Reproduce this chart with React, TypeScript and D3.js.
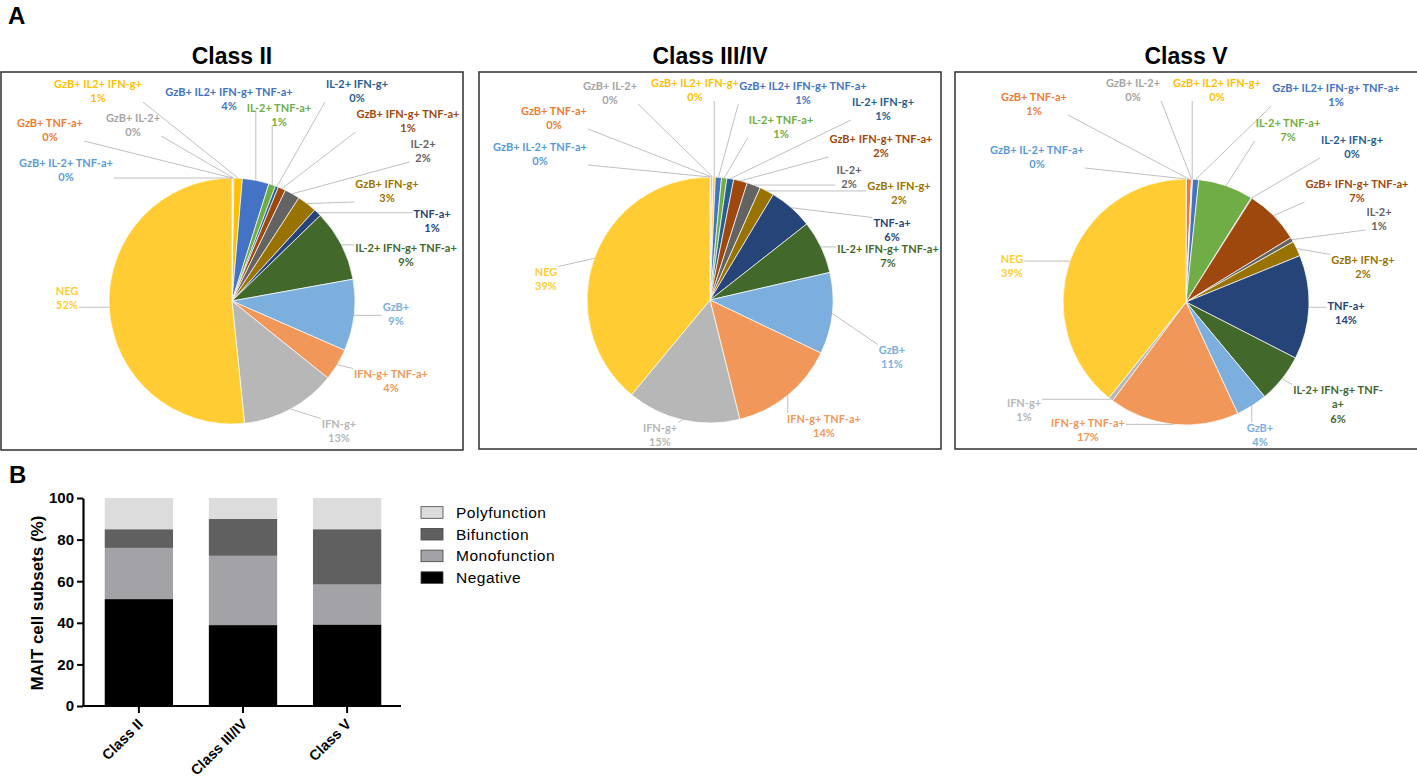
import React, { useEffect, useRef } from 'react';
import * as d3 from 'd3';

// ---- pie data (share of MAIT cells, %) ----
const subsets = [
  'GzB+ IL-2+ TNF-a+', 'GzB+ TNF-a+', 'GzB+ IL-2+', 'GzB+ IL2+ IFN-g+',
  'GzB+ IL2+ IFN-g+ TNF-a+', 'IL-2+ TNF-a+', 'IL-2+ IFN-g+', 'GzB+ IFN-g+ TNF-a+',
  'IL-2+', 'GzB+ IFN-g+', 'TNF-a+', 'IL-2+ IFN-g+ TNF-a+',
  'GzB+', 'IFN-g+ TNF-a+', 'IFN-g+', 'NEG',
];
const classIIShares = [0.05, 0.05, 0.15, 1.1, 3.5, 0.9, 0.4, 1.0, 2.0, 2.6, 1.0, 9.4, 9.4, 4.2, 12.6, 51.6];
const classIIIIVShares = [0.1, 0.2, 0.1, 0.3, 0.8, 0.7, 0.9, 1.8, 1.8, 1.9, 5.8, 7.0, 10.7, 14.0, 14.9, 39.0];
const classVShares = [0.05, 0.65, 0.05, 0.1, 0.8, 7.2, 0.1, 7.2, 0.6, 2.0, 13.6, 6.4, 4.1, 17.0, 0.6, 39.0];

// ---- bar data (%) ----
const barClasses = ['Class II', 'Class III/IV', 'Class V'];
const negative = [51.4, 38.9, 39.2];
const monofunction = [24.6, 33.3, 19.2];
const bifunction = [9.0, 17.8, 26.6];
const polyfunction = [15.0, 10.0, 15.0];
const funcKeys = ['Negative', 'Monofunction', 'Bifunction', 'Polyfunction'];
const yTicks = [0, 20, 40, 60, 80, 100];

// ---- styling / layout ----
const sliceColors = [
  '#5B9BD5', '#ED7D31', '#A5A5A5', '#FFC000', '#4472C4', '#70AD47', '#255E91', '#9E480E',
  '#636363', '#997300', '#264478', '#43682B', '#7CAFDD', '#F1975A', '#B7B7B7', '#FFCD33',
];
const funcColors: Record<string, string> = {
  Negative: '#000000', Monofunction: '#a2a2a7', Bifunction: '#606060', Polyfunction: '#dcdcdc',
};

// label block offsets (line 1 centre) relative to pie centre
const labelsII = [
  [-166, -139], [-182, -179], [-99, -184], [-134, -218], [-3, -210], [47, -194], [125, -218], [176, -188],
  [191, -158], [155, -118], [200, -88], [174, -54], [164, 5], [159, 72], [107, 122], [-165, -11],
];
const labelsIIIIV = [
  [-170, -154], [-156, -190], [-100, -215], [-15, -218], [93, -215], [71, -181], [173, -199], [171, -162],
  [139, -131], [189, -115], [182, -78], [178, -52], [182, 49], [114, 118], [-50, 127], [-164, -29],
];
const labelsV = [
  [-149, -153], [-152, -206], [-53, -220], [31, -220], [150, -215], [102, -180], [166, -163], [171, -119],
  [193, -91], [177, -43], [160, 3], [152, 87], [74, 125], [-98, 120], [-162, 100], [-174, -44],
];

const piePanels = [
  { title: 'Class II', values: classIIShares, labels: labelsII, box: [1, 72, 463, 450], c: [232, 301], wrap: -1 },
  { title: 'Class III/IV', values: classIIIIVShares, labels: labelsIIIIV, box: [479, 72, 941, 449], c: [710, 300], wrap: -1 },
  { title: 'Class V', values: classVShares, labels: labelsV, box: [955, 72, 1419, 449], c: [1186, 302], wrap: 11 },
];

const R = 123;
const LABEL_FONT = 'Lato, "Open Sans", sans-serif';
const ARIAL = '"Liberation Sans", Arial, sans-serif';

export default function App() {
  const ref = useRef<SVGSVGElement>(null);

  useEffect(() => {
    if (!ref.current) return;
    const svg = d3.select(ref.current);
    svg.selectAll('*').remove();

    svg.append('text').attr('x', 8).attr('y', 24).attr('font-family', ARIAL).attr('font-weight', 700)
      .attr('font-size', 24).text('A');

    const pie = d3.pie<number>().sort(null).value(d => d);
    const arc = d3.arc<d3.PieArcDatum<number>>().innerRadius(0).outerRadius(R);

    piePanels.forEach((p, k) => {
      const [x0, y0, x1, y1] = p.box;
      const [cx, cy] = p.c;
      const clipId = `pieclip${k}`;
      svg.append('clipPath').attr('id', clipId).append('rect')
        .attr('x', x0).attr('y', y0).attr('width', x1 - x0).attr('height', y1 - y0);

      svg.append('text').attr('x', cx).attr('y', 64).attr('text-anchor', 'middle')
        .attr('font-family', ARIAL).attr('font-weight', 700).attr('font-size', 23).text(p.title);

      const g = svg.append('g').attr('clip-path', `url(#${clipId})`);
      const pg = g.append('g').attr('transform', `translate(${cx},${cy})`);
      const arcs = pie(p.values);
      const total = d3.sum(p.values);

      pg.selectAll('path').data(arcs).join('path')
        .attr('d', arc)
        .attr('fill', (_, i) => sliceColors[i])
        .attr('stroke', '#fff').attr('stroke-width', 0.7);

      const leaderG = pg.append('g');
      const labelG = pg.append('g');

      arcs.forEach((a, i) => {
        const [dx, dy] = p.labels[i];
        const pct = Math.round((a.data / total) * 100) + '%';
        const name = subsets[i];
        const lines = p.wrap === i ? [name.slice(0, name.length - 2), name.slice(-2), pct] : [name, pct];
        const t = labelG.append('g');
        lines.forEach((ln, j) => {
          t.append('text').attr('x', dx).attr('y', dy + j * 14.5)
            .attr('text-anchor', 'middle').attr('dominant-baseline', 'central')
            .attr('fill', sliceColors[i]).attr('font-family', LABEL_FONT)
            .attr('font-weight', 700).attr('font-size', 11).text(ln);
        });
        const bb = (t.node() as SVGGElement).getBBox();
        const mid = (a.startAngle + a.endAngle) / 2;
        const px = R * Math.sin(mid);
        const py = -R * Math.cos(mid);
        const qx = Math.max(bb.x - 1, Math.min(px, bb.x + bb.width + 1));
        const qy = Math.max(bb.y + 2, Math.min(py, bb.y + bb.height - 2));
        if (Math.hypot(px - qx, py - qy) > 4) {
          leaderG.append('line').attr('x1', qx).attr('y1', qy).attr('x2', px).attr('y2', py)
            .attr('stroke', '#b0b0b0').attr('stroke-width', 0.8);
        }
      });

      svg.append('rect').attr('x', x0).attr('y', y0).attr('width', x1 - x0).attr('height', y1 - y0)
        .attr('fill', 'none').attr('stroke', '#3c3c3c').attr('stroke-width', 1.6);
    });

    // ---- panel B ----
    svg.append('text').attr('x', 9).attr('y', 483).attr('font-family', ARIAL).attr('font-weight', 700)
      .attr('font-size', 24).text('B');

    const axisX = 83;
    const y = d3.scaleLinear().domain([0, 100]).range([706, 498]);
    const x = d3.scaleBand<string>().domain(barClasses).range([86, 400]).paddingInner(0.344).paddingOuter(0.18);

    const rows = barClasses.map((c, i) => ({
      cls: c, Negative: negative[i], Monofunction: monofunction[i], Bifunction: bifunction[i], Polyfunction: polyfunction[i],
    }));
    const series = d3.stack<any>().keys(funcKeys)(rows);

    const bars = svg.append('g');
    series.forEach(s => {
      bars.selectAll(null).data(s).join('rect')
        .attr('x', d => x(d.data.cls)!)
        .attr('width', x.bandwidth())
        .attr('y', d => y(d[1]))
        .attr('height', d => y(d[0]) - y(d[1]))
        .attr('fill', funcColors[s.key]);
    });

    const yAxis = svg.append('g').attr('transform', `translate(${axisX},0)`)
      .call(d3.axisLeft(y).tickValues(yTicks).tickSize(6).tickSizeOuter(0).tickPadding(3));
    yAxis.select('.domain').attr('stroke-width', 2.2);
    yAxis.selectAll('.tick line').attr('stroke-width', 2);
    yAxis.selectAll('.tick text').attr('font-family', ARIAL).attr('font-weight', 700).attr('font-size', 15).attr('fill', '#000');

    const xAxis = svg.append('g').attr('transform', `translate(0,${y(0)})`)
      .call(d3.axisBottom(x).tickSize(7).tickSizeOuter(0));
    xAxis.select('.domain').remove();
    xAxis.selectAll('.tick line').attr('stroke-width', 2);
    xAxis.selectAll('.tick text')
      .attr('font-family', ARIAL).attr('font-weight', 700).attr('font-size', 14.5).attr('fill', '#000')
      .attr('text-anchor', 'end').attr('dy', null).attr('y', 0)
      .attr('transform', 'translate(5,19) rotate(-45)');
    svg.append('line').attr('x1', axisX - 1).attr('x2', 401).attr('y1', y(0)).attr('y2', y(0))
      .attr('stroke', '#000').attr('stroke-width', 2.2);

    svg.append('text')
      .attr('transform', `translate(37,${(y(0) + y(100)) / 2 + 1}) rotate(-90)`)
      .attr('text-anchor', 'middle').attr('dominant-baseline', 'central')
      .attr('font-family', ARIAL).attr('font-weight', 700).attr('font-size', 17)
      .text('MAIT cell subsets (%)');

    const legend = svg.append('g');
    [...funcKeys].reverse().forEach((k, i) => {
      const cyL = 512.5 + i * 21.7;
      legend.append('rect').attr('x', 421).attr('y', cyL - 5.8).attr('width', 22).attr('height', 11.6)
        .attr('fill', funcColors[k]).attr('stroke', '#444').attr('stroke-width', 0.8);
      legend.append('text').attr('x', 456).attr('y', cyL).attr('dominant-baseline', 'central')
        .attr('font-family', ARIAL).attr('font-size', 15.5).attr('letter-spacing', 0.5).text(k);
    });
  }, []);

  return (
    <svg
      ref={ref}
      width={1417}
      height={781}
      style={{ position: 'absolute', left: 0, top: 0, background: '#fff', display: 'block' }}
    />
  );
}
